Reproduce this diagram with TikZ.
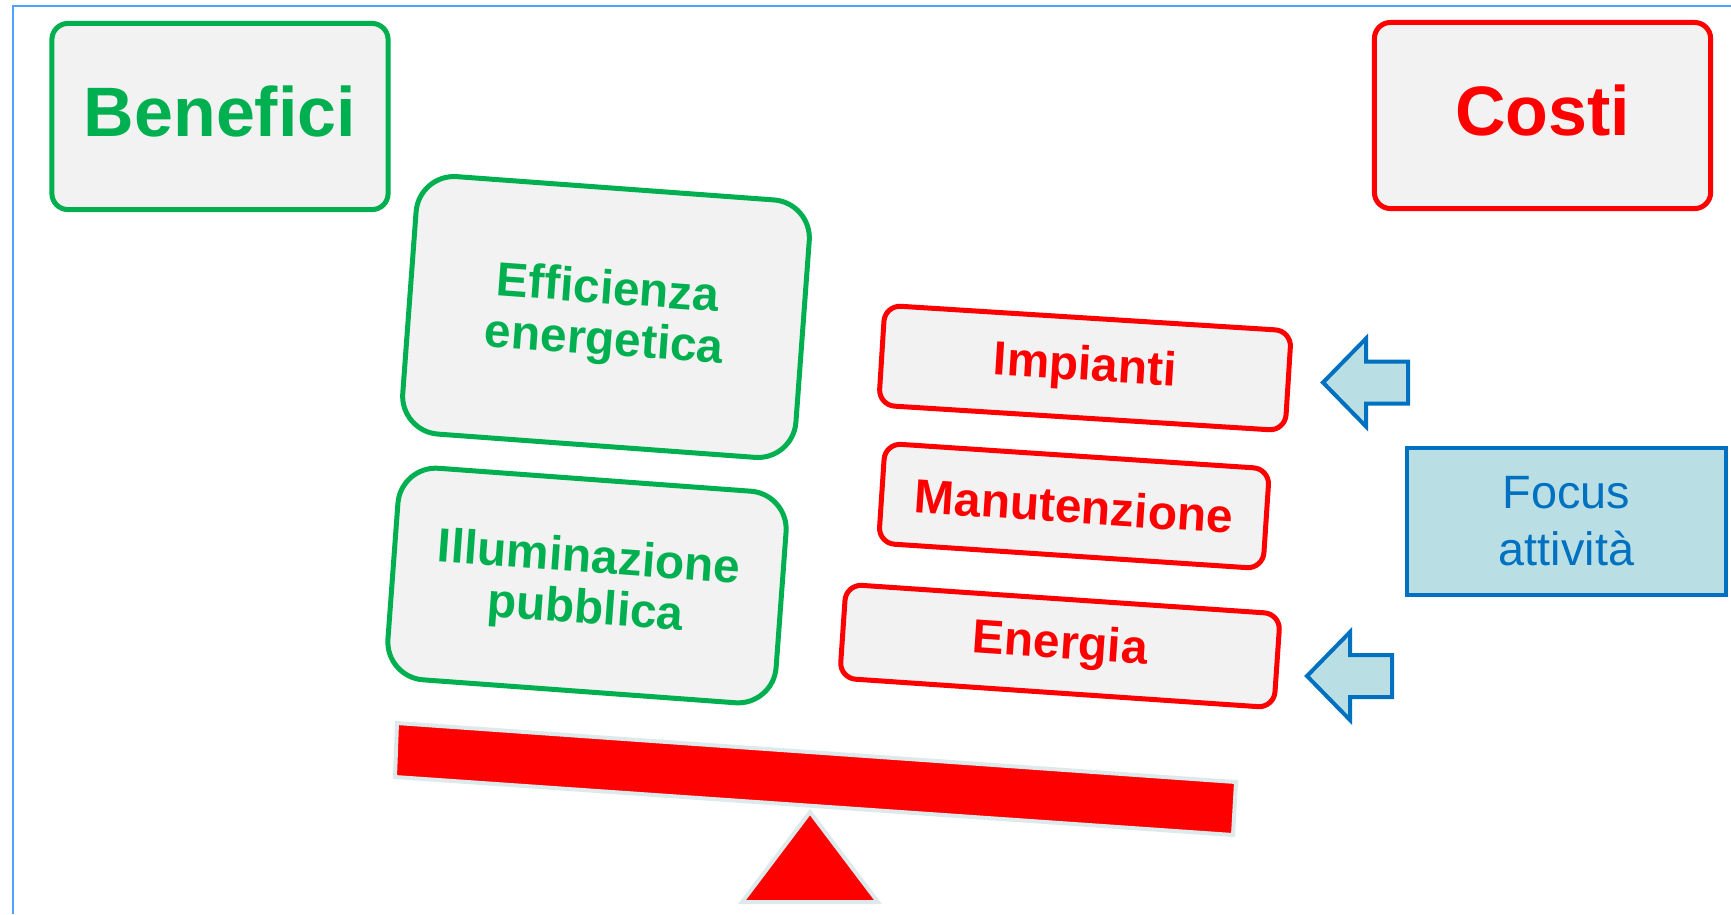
\documentclass[tikz,border=0pt]{standalone}
\usepackage{fontspec}
\setmainfont{Liberation Sans}
\usetikzlibrary{positioning}
\definecolor{verde}{HTML}{00B050}
\definecolor{rosso}{HTML}{FF0000}
\definecolor{grigio}{HTML}{F2F2F2}
\definecolor{blu}{HTML}{0070C0}
\definecolor{azzurro}{HTML}{B9DFE4}
\definecolor{cornice}{HTML}{4DA3FF}
\definecolor{alone}{HTML}{DEE9EC}

\begin{document}
\begin{tikzpicture}[x=0.01cm,y=-0.01cm]

	\tikzstyle{titolo}=[rectangle,rounded corners=0.16cm,line width=0.05cm,fill=grigio,inner sep=0pt,minimum width=3.36cm,minimum height=1.86cm,text height=0.5cm,text depth=0.1cm,font=\bfseries\fontsize{19.9}{24}\selectfont]
	\tikzstyle{verdebox}=[rectangle,draw=verde,text=verde,rounded corners=0.38cm,line width=0.05cm,fill=grigio,inner sep=0pt,rotate=-4.2,align=center,font=\bfseries\fontsize{13.6}{14.6}\selectfont]
	\tikzstyle{rossobox}=[rectangle,draw=rosso,text=rosso,rounded corners=0.16cm,line width=0.05cm,fill=grigio,inner sep=0pt,minimum height=1cm,font=\bfseries\fontsize{13.6}{16}\selectfont]
	\tikzstyle{focus}=[rectangle,draw=blu,text=blu,line width=0.045cm,fill=azzurro,inner sep=0pt,minimum width=3.185cm,minimum height=1.465cm,align=center,font=\fontsize{13.3}{16.2}\selectfont]
	\tikzstyle{freccia}=[draw=blu,fill=azzurro,line width=0.04cm,line join=miter]
	\tikzstyle{leva}=[fill=rosso,draw=alone,line width=0.04cm]

	\useasboundingbox (0,0) rectangle (1731,914);
	\draw [cornice,line width=0.02cm] (13,914) -- (13,6) -- (1731,6);

	\node [titolo,draw=verde,text=verde] (0) at (220,116.5)	{Benefici};
	\node [titolo,draw=rosso,text=rosso] (1) at (1542.5,115.5)	{Costi};

	\node [verdebox,minimum width=3.94cm,minimum height=2.58cm] (2) at (606,317)	{Efficienza\\energetica};
	\node [verdebox,minimum width=3.89cm,minimum height=2.12cm] (3) at (587,585.5)	{Illuminazione\\pubblica};

	\node [rossobox,rotate=-3.6,minimum width=4.07cm] (4) at (1085,368)	{Impianti};
	\node [rossobox,rotate=-3.8,minimum width=3.85cm,minimum height=1cm] (5) at (1074,506)	{Manutenzione};
	\node [rossobox,rotate=-3.9,minimum width=4.35cm,minimum height=0.94cm] (6) at (1060,646)	{Energia};

	\node [focus] (7) at (1566.5,521.5)	{Focus\\attività};

	\foreach \x/\y in {1323/382.5,1307/676}
		\draw [freccia] (\x,\y) -- ++(43,-44) -- ++(0,23) -- ++(42,0) -- ++(0,42) -- ++(-42,0) -- ++(0,23) -- cycle;

	\filldraw [leva] (397,723) -- (1236,782) -- (1233,835) -- (395,777) -- cycle;
	\filldraw [leva] (810,812) -- (878,902) -- (742,902) -- cycle;
\end{tikzpicture}
\end{document}
